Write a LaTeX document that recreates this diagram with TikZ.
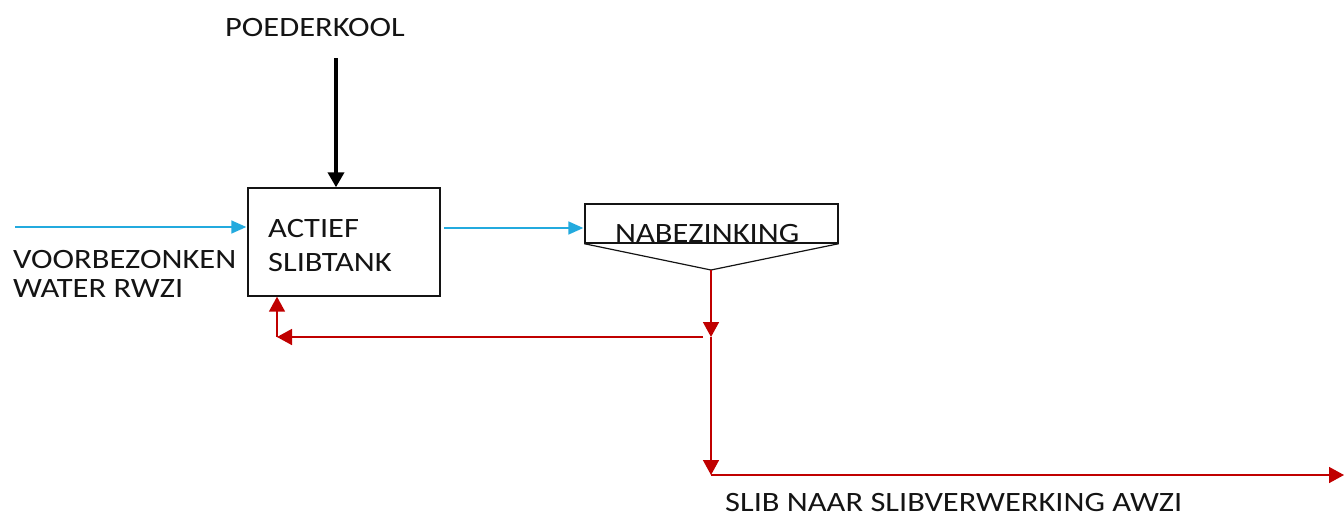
\documentclass[tikz,border=0pt]{standalone}
\usepackage{fontspec}
\setmainfont{Carlito}[FakeStretch=1.16]
\usetikzlibrary{arrows.meta}

\definecolor{flowblue}{RGB}{35,170,222}
\definecolor{sludgered}{RGB}{192,0,0}
\definecolor{inkgrey}{RGB}{20,20,20}

\tikzset{
  lbl/.style={inner sep=0pt, text=inkgrey, font=\fontsize{28}{34}\selectfont},
  unit/.style={draw=inkgrey, line width=1.4pt, inner sep=0pt},
  waterflow/.style={draw=flowblue, line width=1.6pt,
    -{Triangle[width=13pt,length=15pt]}, shorten >=1pt},
  carbonflow/.style={draw=black, line width=4pt,
    -{Triangle[width=16pt,length=15pt]}},
  sludgeflow/.style={draw=sludgered, line width=1.6pt,
    -{Triangle[width=16pt,length=15pt]}}
}

\begin{document}
\begin{tikzpicture}[x=1pt,y=-1pt]
  \useasboundingbox (0,0) rectangle (1344,520);

  % process units
  \node[unit, minimum width=192pt, minimum height=108pt] (tank) at (344,242) {};
  \node[unit, minimum width=253pt, minimum height=39pt] (clar) at (711.5,223.5) {};
  \coordinate (apex) at (711,270);
  \draw[inkgrey, line width=1.2pt] (clar.south west) -- (apex) -- (clar.south east);

  % labels
  \node[lbl, anchor=base west] (pklabel) at (225,36) {POEDERKOOL};
  \node[lbl, anchor=north west, align=left] (tanklabel) at (268,219) {ACTIEF\\SLIBTANK};
  \node[lbl, anchor=north west, align=left, font=\fontsize{28}{29}\selectfont]
    (inlabel) at (13,250) {VOORBEZONKEN\\WATER RWZI};
  \node[lbl, anchor=base west] (clarlabel) at (615,242) {NABEZINKING};
  \node[lbl, anchor=base west] (outlabel) at (725,511) {SLIB NAAR SLIBVERWERKING AWZI};

  % route points
  \coordinate (pk) at (336,58);
  \coordinate (in) at (15,227);
  \coordinate (mid) at (444,228);
  \coordinate (split) at (711,337);
  \coordinate (ret) at (277,337);
  \coordinate (down) at (711,475);
  \coordinate (out) at (1344,475);

  % powdered carbon dosing
  \draw[carbonflow] (pk) -- (pk |- tank.north);

  % water line
  \draw[waterflow] (in) -- (in -| tank.west);
  \draw[waterflow] (mid) -- (mid -| clar.west);

  % sludge lines
  \draw[sludgeflow] (apex) -- (split);
  \draw[sludgeflow] ([xshift=-8pt]split) -- (ret);
  \draw[sludgeflow] (ret) -- (ret |- tank.south);
  \draw[sludgeflow] (split) -- (down);
  \draw[sludgeflow] (down) -- (out);
\end{tikzpicture}
\end{document}
